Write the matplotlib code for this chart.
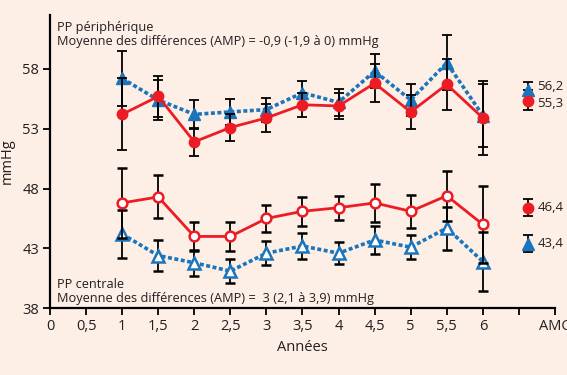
import numpy as np
import matplotlib.pyplot as plt

# Data
years = [1, 1.5, 2, 2.5, 3, 3.5, 4, 4.5, 5, 5.5, 6]
xticks = [0, 0.5, 1, 1.5, 2, 2.5, 3, 3.5, 4, 4.5, 5, 5.5, 6, 6.5, 7]
xticklabels = ['0', '0,5', '1', '1,5', '2', '2,5', '3', '3,5', '4', '4,5', '5', '5,5', '6', '', 'AMC']

# PP périphérique
perif_blue = [57.2, 55.4, 54.2, 54.4, 54.6, 56.0, 55.2, 57.8, 55.4, 58.5, 54.1]
perif_blue_err = [2.3, 1.7, 1.2, 1.1, 1.0, 1.0, 1.1, 1.4, 1.3, 2.3, 2.6]
perif_red = [54.2, 55.7, 51.9, 53.1, 53.9, 55.0, 54.9, 56.8, 54.4, 56.7, 53.9]
perif_red_err = [3.0, 1.7, 1.2, 1.1, 1.2, 1.0, 1.1, 1.6, 1.4, 2.1, 3.1]

# PP centrale
cent_red = [46.8, 47.3, 44.0, 44.0, 45.5, 46.1, 46.4, 46.8, 46.1, 47.4, 45.0]
cent_red_err = [2.9, 1.8, 1.2, 1.2, 1.1, 1.2, 1.0, 1.6, 1.4, 2.1, 3.2]
cent_blue = [44.2, 42.4, 41.8, 41.1, 42.6, 43.2, 42.6, 43.7, 43.1, 44.7, 41.9]
cent_blue_err = [2.0, 1.3, 1.1, 1.0, 1.0, 1.1, 0.9, 1.2, 1.0, 1.8, 2.5]

# AMC values
amc_perif_blue, amc_perif_red = 56.2, 55.3
amc_cent_red, amc_cent_blue = 46.4, 43.4
amc_err = 0.7

RED = '#ed1c24'
BLUE = '#1b75bc'
BG = '#fdefe6'
TXT = '#231f20'

plt.rcParams['font.family'] = ['Open Sans', 'DejaVu Sans']

fig = plt.figure(figsize=(5.67, 3.75), dpi=100, facecolor=BG)
ax = fig.add_axes([0.0882, 0.178, 0.8906, 0.782])
ax.set_facecolor(BG)

dotted = (0, (1.1, 0.7))
ebkw = dict(ecolor='black', elinewidth=1.3, capsize=3.5, capthick=1.3)

# peripheral
ax.errorbar(years, perif_blue, yerr=perif_blue_err, color=BLUE, lw=2.6, ls=dotted,
            marker='^', ms=8, mfc=BLUE, mec=BLUE, zorder=3, **ebkw)
ax.errorbar(years, perif_red, yerr=perif_red_err, color=RED, lw=2.0,
            marker='o', ms=7.5, mfc=RED, mec=RED, zorder=4, **ebkw)

# central
ax.errorbar(years, cent_red, yerr=cent_red_err, color=RED, lw=2.0,
            marker='o', ms=7, mfc='white', mec=RED, mew=1.8, zorder=4, **ebkw)
ax.errorbar(years, cent_blue, yerr=cent_blue_err, color=BLUE, lw=2.6, ls=dotted,
            marker='^', ms=8, mfc='white', mec=BLUE, mew=1.8, zorder=3, **ebkw)

# AMC markers
xa = 6.62
ax.errorbar([xa], [amc_perif_blue], yerr=[[0], [amc_err]], color=BLUE, marker='^', ms=8, **ebkw)
ax.errorbar([xa], [amc_perif_red], yerr=[[amc_err], [0]], color=RED, marker='o', ms=7.5, **ebkw)
ax.errorbar([xa], [amc_cent_red], yerr=amc_err, color=RED, marker='o', ms=7.5, **ebkw)
ax.errorbar([xa], [amc_cent_blue], yerr=amc_err, color=BLUE, marker='^', ms=8, **ebkw)
amc_vals = [amc_perif_blue, amc_perif_red, amc_cent_red, amc_cent_blue]
amc_dy = [3, -2, 0, 0]  # label nudges in points
for v, dy in zip(amc_vals, amc_dy):
    ax.annotate(f'{v:.1f}'.replace('.', ','), xy=(xa, v), xytext=(7, dy),
                textcoords='offset points', fontsize=9.5, color=TXT,
                va='center', ha='left', annotation_clip=False)

ax.set_xlim(0, 7)
ax.set_ylim(38, 62.5)
ax.set_yticks([38, 43, 48, 53, 58])
ax.set_xticks(xticks)
ax.set_xticklabels(xticklabels)
for s in ['top', 'right']:
    ax.spines[s].set_visible(False)
for s in ['left', 'bottom']:
    ax.spines[s].set_linewidth(1.6)
    ax.spines[s].set_color('black')
ax.tick_params(axis='both', direction='out', length=5, width=1.3, colors='black',
               labelcolor=TXT, labelsize=10.5, pad=3)

ax.set_xlabel('Années', fontsize=10.5, color=TXT, labelpad=4)
ax.set_ylabel('mmHg', fontsize=10.5, color=TXT, labelpad=5)

ax.text(0.1, 62.0, 'PP périphérique\nMoyenne des différences (AMP) = -0,9 (-1,9 à 0) mmHg',
        fontsize=9.2, color=TXT, va='top', ha='left', linespacing=1.1)
ax.text(0.1, 38.3, 'PP centrale\nMoyenne des différences (AMP) =  3 (2,1 à 3,9) mmHg',
        fontsize=9.2, color=TXT, va='bottom', ha='left', linespacing=1.1)

plt.savefig('out.png', dpi=100, facecolor=BG)
plt.close()
